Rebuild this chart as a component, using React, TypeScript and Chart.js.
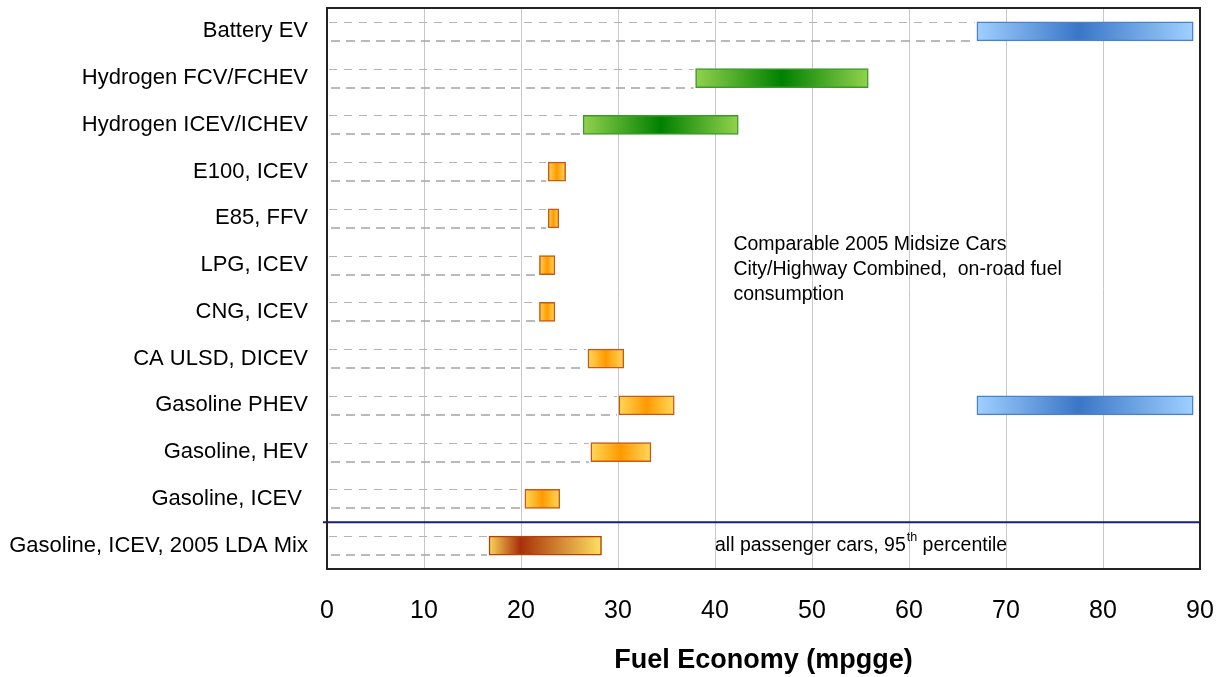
import React, { useEffect, useRef } from "react";
import { Chart, registerables } from "chart.js";
Chart.register(...registerables);

const categories = [
  "Battery EV",
  "Hydrogen FCV/FCHEV",
  "Hydrogen ICEV/ICHEV",
  "E100, ICEV",
  "E85, FFV",
  "LPG, ICEV",
  "CNG, ICEV",
  "CA ULSD, DICEV",
  "Gasoline PHEV",
  "Gasoline, HEV",
  "Gasoline, ICEV ",
  "Gasoline, ICEV, 2005 LDA Mix",
];
const rangeLow = [67.0, 38.0, 26.4, 22.8, 22.8, 21.9, 21.9, 26.9, 30.1, 27.2, 20.4, 16.7];
const rangeHigh = [89.3, 55.8, 42.4, 24.6, 23.9, 23.5, 23.5, 30.6, 35.8, 33.4, 24.0, 28.3];
const phevElectricLow = [null, null, null, null, null, null, null, null, 67.0, null, null, null];
const phevElectricHigh = [null, null, null, null, null, null, null, null, 89.3, null, null, null];
const xTicks = [0, 10, 20, 30, 40, 50, 60, 70, 80, 90];
const noteLines = [
  "Comparable 2005 Midsize Cars",
  "City/Highway Combined,  on-road fuel",
  "consumption",
];
const noteAnchor = { x: 41.9, categoryIndex: 5 };
const mixNote = { before: "all passenger cars, 95", sup: "th", after: " percentile", x: 40.0, categoryIndex: 11 };
const separatorAfterIndex = 10;

// styles (not data)
const rowStyle = ["blue", "green", "green", "orange", "orange", "orange", "orange", "orange", "orange", "orange", "orange", "lda"];
const palettes: Record<string, { stops: [number, string][]; border: string }> = {
  blue: { stops: [[0, "#9fd0ff"], [0.47, "#3a76c6"], [1, "#9fd0ff"]], border: "#4a80cc" },
  green: { stops: [[0, "#92d24e"], [0.5, "#008000"], [1, "#92d24e"]], border: "#3c9a2c" },
  orange: { stops: [[0, "#ffd858"], [0.5, "#ff9a00"], [1, "#ffd858"]], border: "#c8581a" },
  lda: { stops: [[0, "#fad455"], [0.28, "#a8300a"], [1, "#ffe060"]], border: "#b0420c" },
};

const FONT = "Arial, 'Liberation Sans', Helvetica, sans-serif";

function makeGradient(ctx: any, style: string) {
  const chart = ctx.chart;
  const xs = chart.scales && chart.scales.x;
  const raw = ctx.raw;
  if (!xs || !raw || !Array.isArray(raw) || !chart.chartArea) return "transparent";
  const x0 = xs.getPixelForValue(raw[0]);
  const x1 = xs.getPixelForValue(raw[1]);
  const g = chart.ctx.createLinearGradient(x0, 0, x1, 0);
  palettes[style].stops.forEach(([o, c]) => g.addColorStop(o, c));
  return g;
}

const decorPlugin = {
  id: "decor",
  beforeDatasetsDraw(chart: any) {
    const { ctx, chartArea } = chart;
    const meta = chart.getDatasetMeta(0);
    ctx.save();
    meta.data.forEach((el: any) => {
      if (!el) return;
      const start = Math.min(el.base, el.x);
      const top = el.y - el.height / 2;
      const bot = el.y + el.height / 2;
      ctx.beginPath();
      ctx.setLineDash([8, 7]);
      ctx.strokeStyle = "#b4b4b4";
      ctx.lineWidth = 1;
      ctx.moveTo(chartArea.left + 2, Math.round(top) + 0.5);
      ctx.lineTo(start - 2, Math.round(top) + 0.5);
      ctx.stroke();
      ctx.beginPath();
      ctx.setLineDash([9, 6]);
      ctx.strokeStyle = "#a4a4a4";
      ctx.lineWidth = 1.5;
      ctx.moveTo(chartArea.left + 4, Math.round(bot));
      ctx.lineTo(start - 2, Math.round(bot));
      ctx.stroke();
    });
    ctx.restore();
  },
  afterDatasetsDraw(chart: any) {
    const { ctx, chartArea, scales } = chart;
    const ys = scales.y;
    const xs = scales.x;
    ctx.save();
    // separator line
    const ySep = (ys.getPixelForValue(separatorAfterIndex) + ys.getPixelForValue(separatorAfterIndex + 1)) / 2;
    ctx.beginPath();
    ctx.strokeStyle = "#1c1c80";
    ctx.lineWidth = 2;
    ctx.moveTo(chartArea.left - 4, ySep);
    ctx.lineTo(chartArea.right, ySep);
    ctx.stroke();

    // annotation text
    ctx.fillStyle = "#000";
    ctx.textBaseline = "middle";
    ctx.textAlign = "left";
    ctx.font = `19.5px ${FONT}`;
    const nx = xs.getPixelForValue(noteAnchor.x);
    const ny = ys.getPixelForValue(noteAnchor.categoryIndex);
    noteLines.forEach((t, i) => ctx.fillText(t, nx, ny - 21 + i * 25));

    const mx = xs.getPixelForValue(mixNote.x);
    const my = ys.getPixelForValue(mixNote.categoryIndex);
    ctx.font = `19.5px ${FONT}`;
    ctx.fillText(mixNote.before, mx, my);
    let w = ctx.measureText(mixNote.before).width;
    ctx.font = `12.5px ${FONT}`;
    ctx.fillText(mixNote.sup, mx + w + 1, my - 8);
    w += ctx.measureText(mixNote.sup).width + 1;
    ctx.font = `19.5px ${FONT}`;
    ctx.fillText(mixNote.after, mx + w, my);

    // plot border
    ctx.strokeStyle = "#222";
    ctx.lineWidth = 2;
    ctx.strokeRect(chartArea.left, chartArea.top, chartArea.right - chartArea.left, chartArea.bottom - chartArea.top);
    ctx.restore();
  },
};

export default function App() {
  const ref = useRef<HTMLCanvasElement | null>(null);
  useEffect(() => {
    document.body.style.margin = "0";
    const canvas = ref.current;
    if (!canvas) return;
    const chart = new Chart(canvas, {
      type: "bar",
      data: {
        labels: categories,
        datasets: [
          {
            label: "Fuel economy range",
            data: rangeLow.map((lo, i) => [lo, rangeHigh[i]]),
            backgroundColor: (ctx: any) => makeGradient(ctx, rowStyle[ctx.dataIndex] || "orange"),
            borderColor: (ctx: any) => palettes[rowStyle[ctx.dataIndex] || "orange"].border,
            borderWidth: 1.5,
            borderSkipped: false,
            barThickness: 19,
            grouped: false,
          } as any,
          {
            label: "PHEV electric",
            data: phevElectricLow.map((lo, i) => (lo === null ? null : [lo, phevElectricHigh[i]])),
            backgroundColor: (ctx: any) => makeGradient(ctx, "blue"),
            borderColor: palettes.blue.border,
            borderWidth: 1.5,
            borderSkipped: false,
            barThickness: 19,
            grouped: false,
          } as any,
        ],
      },
      options: {
        indexAxis: "y",
        responsive: false,
        animation: false,
        devicePixelRatio: 1,
        layout: { padding: { left: 0, right: 28, top: 8, bottom: 0 } },
        plugins: { legend: { display: false }, tooltip: { enabled: false } },
        scales: {
          x: {
            type: "linear",
            position: "bottom",
            min: 0,
            max: 90,
            afterBuildTicks: (scale: any) => {
              scale.ticks = xTicks.map((v) => ({ value: v }));
            },
            afterFit: (scale: any) => {
              scale.height = 108;
              scale.paddingLeft = 0;
              scale.paddingRight = 0;
            },
            grid: { color: "#c8c8c8", lineWidth: 1, drawTicks: false },
            border: { display: false },
            ticks: { color: "#000", font: { family: FONT, size: 25 }, padding: 27, maxRotation: 0 },
            title: {
              display: true,
              text: "Fuel Economy (mpgge)",
              color: "#000",
              font: { family: FONT, size: 27, weight: "bold" },
              padding: { top: 2, bottom: 0 },
            },
          },
          y: {
            type: "category",
            afterFit: (scale: any) => {
              scale.width = 327;
              scale.paddingTop = 0;
              scale.paddingBottom = 0;
            },
            grid: { display: false, drawTicks: false },
            border: { display: false },
            ticks: { color: "#000", font: { family: FONT, size: 22 }, padding: 19, autoSkip: false },
          },
        },
      } as any,
      plugins: [decorPlugin],
    });
    return () => chart.destroy();
  }, []);
  return (
    <div style={{ width: 1228, height: 677, background: "#fff" }}>
      <canvas ref={ref} width={1228} height={677} />
    </div>
  );
}
